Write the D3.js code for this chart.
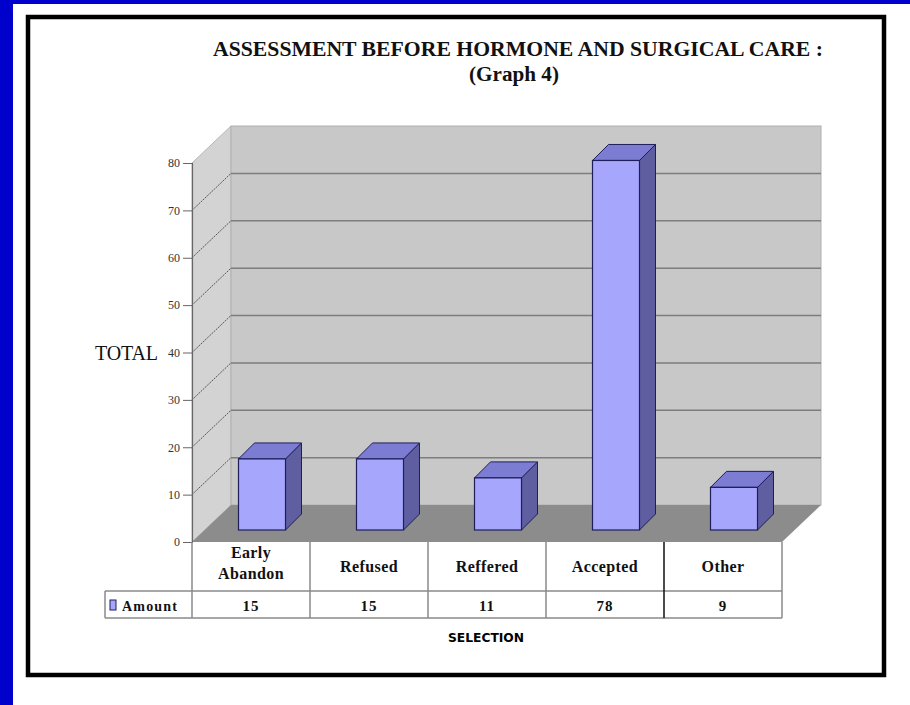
<!DOCTYPE html>
<html>
<head>
<meta charset="utf-8">
<script src="https://cdn.jsdelivr.net/npm/d3@7"></script>
<style>
  body { margin: 0; background: #0000cc; }
  svg { display: block; }
</style>
</head>
<body>
<svg id="chart"></svg>
<script>
// Chart data
const categories = ["Early Abandon", "Refused", "Reffered", "Accepted", "Other"];
const categoryLines = [["Early", "Abandon"], ["Refused"], ["Reffered"], ["Accepted"], ["Other"]];
const amounts = [15, 15, 11, 78, 9];
const yTicks = [0, 10, 20, 30, 40, 50, 60, 70, 80];
const seriesName = "Amount";

const W = 910, H = 705;
const svg = d3.select("#chart").attr("width", W).attr("height", H);

// Page background: blue strip, white sheet, black frame
svg.append("rect").attr("width", W).attr("height", H).attr("fill", "#0000cc");
svg.append("rect").attr("x", 13).attr("y", 4).attr("width", W - 13).attr("height", H - 4).attr("fill", "#fff");
svg.append("rect")
  .attr("x", 28).attr("y", 17).attr("width", 856).attr("height", 658)
  .attr("fill", "none").attr("stroke", "#000").attr("stroke-width", 4.5);

// Scales
const x = d3.scaleBand().domain(categories).range([192, 782]);
const y = d3.scaleLinear().domain([0, 80]).range([542, 163]);

// 3D depth of the plot box
const dx = 39, dy = -37;
const x0 = x.range()[0], x1 = x.range()[1];

// Side wall
svg.append("polygon")
  .attr("points", [[x0, y(80)], [x0 + dx, y(80) + dy], [x0 + dx, y(0) + dy], [x0, y(0)]].join(" "))
  .attr("fill", "#d3d3d3").attr("stroke", "#b8b8b8");

// Back wall
svg.append("rect")
  .attr("x", x0 + dx).attr("y", y(80) + dy)
  .attr("width", x1 - x0).attr("height", y(0) - y(80))
  .attr("fill", "#c8c8c8").attr("stroke", "#b0b0b0");

// Gridlines (back wall) and slanted lines on side wall
const grid = yTicks.filter((t) => t > 0 && t < 80);
svg.selectAll(".grid")
  .data(grid)
  .enter()
  .append("line")
  .attr("x1", x0 + dx).attr("x2", x1 + dx)
  .attr("y1", (d) => y(d) + dy).attr("y2", (d) => y(d) + dy)
  .attr("stroke", "#7d7d7d").attr("stroke-width", 1.5);

svg.selectAll(".side")
  .data(grid)
  .enter()
  .append("line")
  .attr("x1", x0).attr("x2", x0 + dx)
  .attr("y1", (d) => y(d)).attr("y2", (d) => y(d) + dy)
  .attr("stroke", "#555").attr("stroke-width", 1)
  .attr("stroke-dasharray", "2,1");

// Floor
svg.append("polygon")
  .attr("points", [[x0, y(0)], [x0 + dx, y(0) + dy], [x1 + dx, y(0) + dy], [x1, y(0)]].join(" "))
  .attr("fill", "#8c8c8c");

// Y axis
const axis = svg.append("g")
  .attr("transform", `translate(${x0},0)`)
  .call(d3.axisLeft(y).tickValues(yTicks).tickSize(9).tickPadding(3));
axis.select(".domain").attr("stroke", "#666").attr("stroke-width", 1.2);
axis.selectAll(".tick line").attr("stroke", "#666");
axis.selectAll("text")
  .attr("font-family", "Liberation Serif, serif")
  .attr("font-size", 12)
  .attr("fill", "#333");

// Bars (front, top, side faces)
const bw = 47, ox = 11, oy = -12, bd = 16;
const bars = svg.selectAll(".bar")
  .data(categories.map((c, i) => ({ c, v: amounts[i] })))
  .enter()
  .append("g");

bars.each(function (d) {
  const g = d3.select(this);
  const left = x(d.c) + x.bandwidth() / 2 + ox - bw / 2;
  const right = left + bw;
  const top = y(d.v) + oy;
  const bottom = y(0) + oy;
  g.append("polygon")
    .attr("points", [[right, top], [right + bd, top - bd], [right + bd, bottom - bd], [right, bottom]].join(" "))
    .attr("fill", "#5e5ea0").attr("stroke", "#1e1e5a").attr("stroke-width", 1);
  g.append("polygon")
    .attr("points", [[left, top], [left + bd, top - bd], [right + bd, top - bd], [right, top]].join(" "))
    .attr("fill", "#7c7cd2").attr("stroke", "#1e1e5a").attr("stroke-width", 1);
  g.append("rect")
    .attr("x", left).attr("y", top).attr("width", bw).attr("height", bottom - top)
    .attr("fill", "#a6a6fc").attr("stroke", "#1e1e5a").attr("stroke-width", 1.2);
});

// Data table below the plot
const rowTop = y(0), rowMid = 591, rowBot = 618, rowHeadX = 105;
const table = svg.append("g")
  .attr("stroke", "#8a8a8a").attr("stroke-width", 1.5);
table.append("line").attr("x1", x0).attr("x2", x1).attr("y1", rowMid).attr("y2", rowMid);
table.append("line").attr("x1", rowHeadX).attr("x2", x1).attr("y1", rowBot).attr("y2", rowBot);
table.append("line").attr("x1", rowHeadX).attr("x2", x0).attr("y1", rowMid).attr("y2", rowMid);
table.append("line").attr("x1", rowHeadX).attr("x2", rowHeadX).attr("y1", rowMid).attr("y2", rowBot);
table.selectAll(".col")
  .data(categories.concat(["end"]))
  .enter()
  .append("line")
  .attr("x1", (d, i) => x0 + i * x.bandwidth())
  .attr("x2", (d, i) => x0 + i * x.bandwidth())
  .attr("y1", rowTop).attr("y2", rowBot)
  .attr("stroke", (d, i) => (i === 4 ? "#111" : null));

// Category labels
const labelFont = "Liberation Serif, serif";
svg.selectAll(".cat")
  .data(categories)
  .enter()
  .append("text")
  .attr("x", (d) => x(d) + x.bandwidth() / 2)
  .attr("y", (d, i) => 572 - (categoryLines[i].length - 1) * 14)
  .attr("text-anchor", "middle")
  .attr("font-family", labelFont)
  .attr("font-weight", "bold")
  .attr("font-size", 16)
  .attr("letter-spacing", 0.4)
  .attr("fill", "#111")
  .each(function (d, i) {
    d3.select(this).selectAll("tspan")
      .data(categoryLines[i])
      .enter()
      .append("tspan")
      .attr("x", x(d) + x.bandwidth() / 2)
      .attr("dy", (t, j) => (j === 0 ? 0 : 21))
      .text((t) => t);
  });

// Values row
svg.selectAll(".val")
  .data(amounts)
  .enter()
  .append("text")
  .attr("x", (d, i) => x(categories[i]) + x.bandwidth() / 2)
  .attr("y", 611)
  .attr("text-anchor", "middle")
  .attr("font-family", labelFont)
  .attr("font-weight", "bold")
  .attr("font-size", 15)
  .attr("letter-spacing", 1)
  .attr("fill", "#111")
  .text((d) => d);

// Legend key in row header
svg.append("rect")
  .attr("x", 110).attr("y", 600).attr("width", 6).attr("height", 10)
  .attr("fill", "#a6a6fc").attr("stroke", "#1e1e5a").attr("stroke-width", 1);
svg.append("text")
  .attr("x", 122).attr("y", 611)
  .attr("font-family", labelFont)
  .attr("font-weight", "bold")
  .attr("font-size", 14)
  .attr("letter-spacing", 1.2)
  .attr("fill", "#111")
  .text(seriesName);

// Axis titles
svg.append("text")
  .attr("x", 95).attr("y", 360)
  .attr("font-family", labelFont)
  .attr("font-size", 20)
  .attr("textLength", 63)
  .attr("fill", "#111")
  .text("TOTAL");

svg.append("text")
  .attr("x", 486).attr("y", 642)
  .attr("text-anchor", "middle")
  .attr("font-family", "DejaVu Sans Condensed, DejaVu Sans, sans-serif")
  .attr("font-weight", "bold")
  .attr("font-size", 12)
  .attr("textLength", 76)
  .attr("lengthAdjust", "spacingAndGlyphs")
  .attr("fill", "#000")
  .text("SELECTION");

// Title
svg.append("text")
  .attr("x", 518).attr("y", 56)
  .attr("text-anchor", "middle")
  .attr("font-family", labelFont)
  .attr("font-weight", "bold")
  .attr("font-size", 22)
  .attr("textLength", 610)
  .attr("lengthAdjust", "spacingAndGlyphs")
  .attr("fill", "#111")
  .text("ASSESSMENT BEFORE HORMONE AND SURGICAL CARE :");

svg.append("text")
  .attr("x", 514).attr("y", 81)
  .attr("text-anchor", "middle")
  .attr("font-family", labelFont)
  .attr("font-weight", "bold")
  .attr("font-size", 20)
  .attr("textLength", 90)
  .attr("lengthAdjust", "spacingAndGlyphs")
  .attr("fill", "#111")
  .text("(Graph 4)");
</script>
</body>
</html>
